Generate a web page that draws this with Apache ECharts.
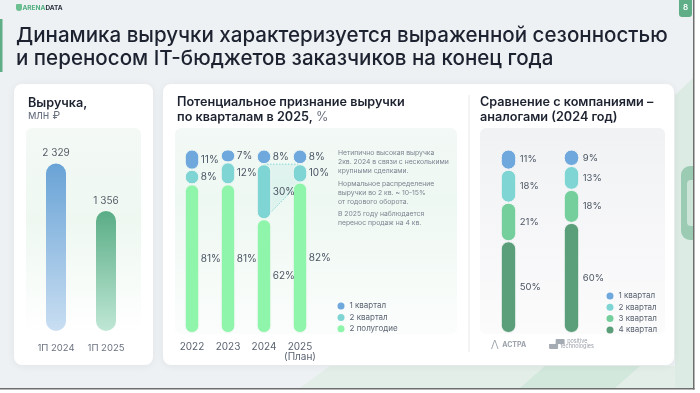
<!DOCTYPE html>
<html><head><meta charset="utf-8">
<script src="https://cdn.jsdelivr.net/npm/echarts@6/dist/echarts.min.js"></script>
<style>html,body{margin:0;padding:0;background:#fff}#c{width:700px;height:393px}</style>
</head><body><div id="c"></div>
<script>
// ---- data ----
const revenueCategories = ['1П 2024', '1П 2025'];
const revenueValues = [2329, 1356];

const yearCategories = ['2022', '2023', '2024', '2025\n(План)'];
const q1Share = [11, 7, 8, 8];
const q2Share = [8, 12, 30, 10];
const h2Share = [81, 81, 62, 82];

const peerCategories = ['АСТРА', 'positive technologies'];
const peerQ1 = [11, 9];
const peerQ2 = [18, 13];
const peerQ3 = [21, 18];
const peerQ4 = [50, 60];

const midLegend = ['1 квартал', '2 квартал', '2 полугодие'];
const peerLegend = ['1 квартал', '2 квартал', '3 квартал', '4 квартал'];

// ---- styles ----
const FONT = 'Inter, "Noto Sans", sans-serif';
const C_Q1 = '#6fa8dc', C_Q2 = '#7fd5d3', C_H2 = '#8ef5aa', C_Q3 = '#74cf9c', C_Q4 = '#5a9f7a';
const ctx = document.createElement('canvas').getContext('2d');
function fitSize(text, weight, target) { ctx.font = weight + ' 100px ' + FONT; return 100 * target / ctx.measureText(text).width; }
const titleSize = fitSize('Динамика выручки характеризуется выраженной сезонностью', 500, 652);
const cardTitleSize = fitSize('Потенциальное признание выручки', 600, 228);
const noteSize = fitSize('2кв. 2024 в связи с несколькими', 400, 111);
function fmtThousands(v) { return String(v).replace(/\B(?=(\d{3})+(?!\d))/g, ' '); }

const chart = echarts.init(document.getElementById('c'), null, {renderer: 'canvas'});
const G = echarts.graphic;
const leftMin = -1100, leftMax = 2400;

const graphics = [
  {type: 'rect', z: -10, shape: {x: 0, y: 0, width: 693, height: 388}, style: {fill: '#eef1f3'}},
  {type: 'polygon', z: -9, shape: {points: [[675, 95], [693, 78], [693, 388], [675, 388]]}, style: {fill: '#dcebe4'}},
  {type: 'rect', z: -9, shape: {x: 681, y: 166, width: 12, height: 74, r: [9, 0, 0, 9]}, style: {fill: '#9ccbb4'}},
  {type: 'rect', z: -9, shape: {x: 687, y: 180, width: 6, height: 46, r: [4, 0, 0, 4]}, style: {fill: '#cde5d9'}},
  {type: 'polygon', z: -9, shape: {points: [[300, 388], [330, 366], [675, 366], [675, 388]]}, style: {fill: '#e3eee9'}},
  {type: 'polygon', z: -9, shape: {points: [[520, 388], [545, 366], [640, 366], [615, 388]]}, style: {fill: '#d2e8dc'}},
  {type: 'rect', z: -8, shape: {x: 693, y: 0, width: 1.5, height: 389.5}, style: {fill: '#6e6e6e'}},
  {type: 'rect', z: -8, shape: {x: 0, y: 388, width: 694.5, height: 1.5}, style: {fill: '#6e6e6e'}},
  // header
  {type: 'rect', shape: {x: 0, y: 19, width: 2.5, height: 53}, style: {fill: '#5fae88'}},
  {type: 'rect', shape: {x: 679, y: -4, width: 13, height: 21, r: 3}, style: {fill: '#5fae88'}},
  {type: 'text', style: {text: '8', x: 685.5, y: 8, align: 'center', verticalAlign: 'middle', fill: '#fff', font: '600 8px ' + FONT}},
  {type: 'rect', shape: {x: 16, y: 4, width: 6, height: 7, r: [1, 1, 3, 3]}, style: {fill: '#6cc091'}},
  {type: 'text', style: {text: '{a|ARENA}{b|DATA}', x: 22.5, y: 8, verticalAlign: 'middle',
    rich: {a: {fill: '#4fae7f', font: '700 6.5px ' + FONT}, b: {fill: '#2c3340', font: '700 6.5px ' + FONT}}}},
  {type: 'text', style: {text: 'Динамика выручки характеризуется выраженной сезонностью', x: 16, y: 36, verticalAlign: 'middle', fill: '#1d2230', font: '500 ' + titleSize + 'px ' + FONT}},
  {type: 'text', style: {text: 'и переносом IT-бюджетов заказчиков на конец года', x: 16, y: 59, verticalAlign: 'middle', fill: '#1d2230', font: '500 ' + titleSize + 'px ' + FONT}},
  // cards
  {type: 'rect', z: -5, shape: {x: 14, y: 84, width: 139, height: 281, r: 8}, style: {fill: '#fff', shadowBlur: 8, shadowColor: 'rgba(0,0,0,0.06)', shadowOffsetY: 1}},
  {type: 'rect', z: -5, shape: {x: 163, y: 84, width: 511, height: 281, r: 8}, style: {fill: '#fff', shadowBlur: 8, shadowColor: 'rgba(0,0,0,0.06)', shadowOffsetY: 1}},
  {type: 'rect', z: -4, shape: {x: 26, y: 128, width: 115, height: 206, r: 6}, style: {fill: new G.LinearGradient(0, 0, 0, 1, [{offset: 0, color: '#f4f9f6'}, {offset: 0.45, color: '#eef8f1'}, {offset: 1, color: '#ffffff'}])}},
  {type: 'rect', z: -4, shape: {x: 175, y: 128, width: 282, height: 206, r: 6}, style: {fill: new G.LinearGradient(0, 0, 0, 1, [{offset: 0, color: '#f3f9f6'}, {offset: 0.35, color: '#eef8f2'}, {offset: 1, color: '#fbfdfc'}])}},
  {type: 'rect', z: -4, shape: {x: 480, y: 128, width: 185, height: 206, r: 6}, style: {fill: new G.LinearGradient(0, 0, 0, 1, [{offset: 0, color: '#f1f2f4'}, {offset: 1, color: '#fbfbfc'}])}},
  {type: 'rect', z: -4, shape: {x: 468.5, y: 95, width: 1, height: 257}, style: {fill: '#e6e8eb'}},
  // card titles
  {type: 'text', style: {text: 'Выручка,', x: 28, y: 103, verticalAlign: 'middle', fill: '#1d2230', font: '600 ' + cardTitleSize + 'px ' + FONT}},
  {type: 'text', style: {text: 'млн ₽', x: 28, y: 115.5, verticalAlign: 'middle', fill: '#6b7280', font: '400 11px ' + FONT}},
  {type: 'text', style: {text: 'Потенциальное признание выручки', x: 177, y: 102, verticalAlign: 'middle', fill: '#1d2230', font: '600 ' + cardTitleSize + 'px ' + FONT}},
  {type: 'text', style: {text: '{a|по кварталам в 2025,} {b|%}', x: 177, y: 117.5, verticalAlign: 'middle',
    rich: {a: {fill: '#1d2230', font: '600 ' + cardTitleSize + 'px ' + FONT}, b: {fill: '#6b7280', font: '400 ' + cardTitleSize + 'px ' + FONT}}}},
  {type: 'text', style: {text: 'Сравнение с компаниями –', x: 480, y: 102, verticalAlign: 'middle', fill: '#1d2230', font: '600 ' + cardTitleSize + 'px ' + FONT}},
  {type: 'text', style: {text: 'аналогами (2024 год)', x: 480, y: 117.5, verticalAlign: 'middle', fill: '#1d2230', font: '600 ' + cardTitleSize + 'px ' + FONT}},
  // note
  {type: 'text', style: {text: 'Нетипично высокая выручка\n2кв. 2024 в связи с несколькими\nкрупными сделками.', x: 338, y: 148.5, lineHeight: 9, fill: '#7d8591', font: '400 ' + noteSize + 'px ' + FONT}},
  {type: 'text', style: {text: 'Нормальное распределение\nвыручки во 2 кв. ~ 10-15%\nот годового оборота.', x: 338, y: 179.5, lineHeight: 9, fill: '#7d8591', font: '400 ' + noteSize + 'px ' + FONT}},
  {type: 'text', style: {text: 'В 2025 году наблюдается\nперенос продаж на 4 кв.', x: 338, y: 209, lineHeight: 9.5, fill: '#7d8591', font: '400 ' + noteSize + 'px ' + FONT}}
];

function segLabel(size, dist) {
  return {show: true, position: 'right', distance: dist, formatter: '{c}%', fontSize: size, color: '#4b5563', fontFamily: FONT};
}
function midBar(name, data, color) {
  return {type: 'bar', name: name, stack: 'mid', xAxisIndex: 1, yAxisIndex: 1, data: data, barWidth: 14.5, z: 3,
    itemStyle: {color: color, borderRadius: 7, borderColor: '#f0f8f3', borderWidth: 1},
    label: segLabel(10, 1.5), emphasis: {disabled: true}};
}
function peerBar(name, data, color) {
  return {type: 'bar', name: name, stack: 'peer', xAxisIndex: 2, yAxisIndex: 2, data: data, barWidth: 15.5, z: 3,
    itemStyle: {color: color, borderRadius: 7.5, borderColor: '#f5f6f7', borderWidth: 1},
    label: segLabel(9.5, 3.5), emphasis: {disabled: true}};
}

const legendText = {fontSize: 8, color: '#5b6472', fontFamily: FONT, lineHeight: 10};

const option = {
  animation: false,
  textStyle: {fontFamily: FONT},
  graphic: graphics,
  grid: [
    {left: 31, width: 100, top: 160, height: 171},
    {left: 174, width: 144, top: 149.5, height: 183.5},
    {left: 477, width: 126, top: 149.5, height: 183.5}
  ],
  xAxis: [
    {gridIndex: 0, type: 'category', data: revenueCategories, axisLine: {show: false}, axisTick: {show: false},
      axisLabel: {interval: 0, margin: 11.5, fontSize: 9.5, color: '#6b7280', fontFamily: FONT, lineHeight: 11}},
    {gridIndex: 1, type: 'category', data: yearCategories, axisLine: {show: false}, axisTick: {show: false},
      axisLabel: {interval: 0, margin: 9, fontSize: 10, color: '#5b6472', fontFamily: FONT, lineHeight: 10}},
    {gridIndex: 2, type: 'category', data: peerCategories, axisLine: {show: false}, axisTick: {show: false},
      axisLabel: {interval: 0, margin: 6, fontFamily: FONT,
        formatter: function (v) {
          if (v === 'АСТРА') return '{ic|Λ} {a|АСТРА}';
          return '{sq|}{p|positive}\n{sp|}{p|technologies}';
        },
        rich: {
          ic: {fontSize: 12, color: '#9aa1a9', fontFamily: FONT, fontWeight: 300},
          a: {fontSize: 7, color: '#9aa1a9', fontWeight: 700, fontFamily: FONT},
          sq: {width: 9, height: 5, backgroundColor: '#a5abb3', borderRadius: [1, 1, 0, 0]},
          sp: {width: 9, height: 5, backgroundColor: '#a5abb3', borderRadius: [0, 0, 1, 1]},
          p: {fontSize: 5.5, lineHeight: 5, color: '#9aa1a9', padding: [0, 0, 0, 2.5], fontFamily: FONT}
        }}}
  ],
  yAxis: [
    {gridIndex: 0, type: 'value', min: leftMin, max: leftMax, show: false},
    {gridIndex: 1, type: 'value', min: 0, max: 100, show: false},
    {gridIndex: 2, type: 'value', min: 0, max: 100, show: false}
  ],
  legend: [
    {data: midLegend, orient: 'vertical', left: 337.5, top: 301, padding: 0, icon: 'circle', itemWidth: 7, itemHeight: 7, itemGap: 1.4,
      itemStyle: {borderWidth: 0}, textStyle: legendText, selectedMode: false},
    {data: peerLegend, orient: 'vertical', left: 606.5, top: 291, padding: 0, icon: 'circle', itemWidth: 7, itemHeight: 7, itemGap: 1.3,
      itemStyle: {borderWidth: 0}, textStyle: legendText, selectedMode: false}
  ],
  series: [
    {type: 'custom', xAxisIndex: 0, yAxisIndex: 0, data: revenueValues.map((v, i) => [i, v]),
      renderItem: function (params, api) {
        const i = api.value(0), v = api.value(1);
        const top = api.coord([i, v]);
        const base = api.coord([i, leftMin]);
        const w = 20;
        const colors = i === 0 ? ['#69a3d6', '#c9def2'] : ['#5aad86', '#bfe7d5'];
        return {type: 'group', children: [
          {type: 'rect', shape: {x: top[0] - w / 2, y: top[1], width: w, height: base[1] - top[1], r: w / 2},
            style: {fill: new G.LinearGradient(0, 0, 0, 1, [{offset: 0, color: colors[0]}, {offset: 1, color: colors[1]}])}},
          {type: 'text', style: {text: fmtThousands(v), x: top[0], y: top[1] - 5, align: 'center', verticalAlign: 'bottom',
            fill: '#555c66', font: '400 10px ' + FONT}}
        ]};
      }},
    {type: 'custom', xAxisIndex: 1, yAxisIndex: 1, z: 1, data: [[2, 3]],
      renderItem: function (params, api) {
        const a = api.value(0), b = api.value(1);
        const tl = api.coord([a, h2Share[a] + q2Share[a]]);
        const bl = api.coord([a, h2Share[a]]);
        const tr = api.coord([b, h2Share[b] + q2Share[b]]);
        const br = api.coord([b, h2Share[b]]);
        const dash = {stroke: '#86d8d6', lineWidth: 1, lineDash: [1.5, 1.5], fill: null};
        return {type: 'group', children: [
          {type: 'polygon', shape: {points: [tl, tr, br, bl]}, style: {fill: 'rgba(127,213,211,0.14)'}},
          {type: 'polyline', shape: {points: [tl, tr]}, style: dash},
          {type: 'polyline', shape: {points: [bl, br]}, style: dash}
        ]};
      }},
    midBar('2 полугодие', h2Share, C_H2),
    midBar('2 квартал', q2Share, C_Q2),
    midBar('1 квартал', q1Share, C_Q1),
    peerBar('4 квартал', peerQ4, C_Q4),
    peerBar('3 квартал', peerQ3, C_Q3),
    peerBar('2 квартал', peerQ2, C_Q2),
    peerBar('1 квартал', peerQ1, C_Q1)
  ]
};
chart.setOption(option);
</script>
</body></html>
